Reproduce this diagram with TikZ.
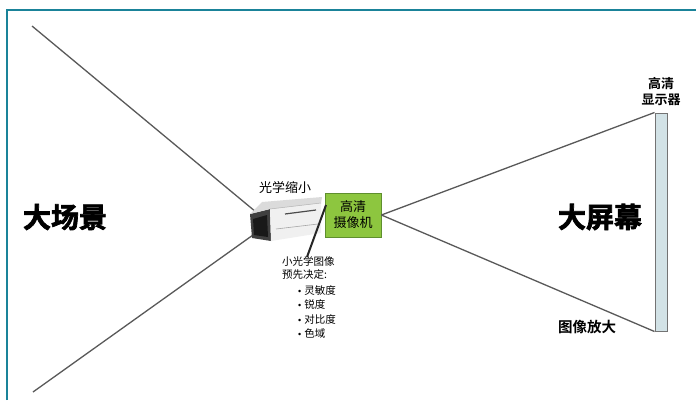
\documentclass[tikz,border=0pt]{standalone}
\usepackage{fontspec}
\setmainfont{Noto Sans CJK SC}
\newfontfamily\cjkbold{Noto Sans CJK SC Bold}
\newfontfamily\cjkheavy[FakeBold=2.5]{Noto Sans CJK SC Bold}
\newfontfamily\latinsans{Liberation Sans}
\newcommand{\dotitem}{{\latinsans\fontsize{9}{10}\selectfont •}\hspace{3pt}}
\begin{document}
\begin{tikzpicture}[x=1pt,y=-1pt,
  ray/.style={draw=black!65,line width=1.3pt},
  bigtext/.style={font=\cjkheavy\fontsize{28}{30}\selectfont,inner sep=0pt},
  midtext/.style={font=\cjkbold\fontsize{13.5}{16}\selectfont,inner sep=0pt,align=center},
  plain/.style={font=\fontsize{13}{15}\selectfont,inner sep=0pt,align=center},
  small/.style={font=\fontsize{10.5}{13.5}\selectfont,inner sep=0pt,align=left,anchor=north west}]
\definecolor{frameteal}{HTML}{1A8399}
\definecolor{boxgreen}{HTML}{8DC63F}
\definecolor{boxedge}{HTML}{5F8F2E}
\definecolor{screenfill}{HTML}{D2E2E6}
\useasboundingbox (0,0) rectangle (696,400);
\fill[white] (0,0) rectangle (696,400);
% frame on top and left
\draw[frameteal,line width=2pt] (7,400) -- (7,10) -- (696,10);

% ray end points
\coordinate (sceneTop) at (32,26);
\coordinate (sceneBot) at (33,392);
\coordinate (camTop) at (256,212);
\coordinate (camBot) at (253,235);

% rays of the large scene into the camera
\draw[ray] (sceneTop) -- (camTop);
\draw[ray] (sceneBot) -- (camBot);

% camera
\fill[black!75] (250,214) -- (270,209) -- (271,241) -- (252,238) -- cycle;
\fill[black!90] (253,219) -- (267,215) -- (268,237) -- (254,235) -- cycle;
\fill[black!6] (270,209) -- (321,203) -- (321,233) -- (271,241) -- cycle;
\fill[black!14] (250,214) -- (262,202) -- (322,197) -- (321,203) -- (270,209) -- cycle;
\draw[black!70,line width=1.2pt] (285,214) -- (316,210);
\draw[black!35,line width=0.6pt] (276,229) -- (318,224);
\draw[black!30,line width=0.5pt] (270,209) -- (321,203);

% camera box
\node[draw=boxedge,fill=boxgreen,line width=0.8pt,minimum width=56pt,minimum height=44pt,inner sep=0pt,align=center,font=\fontsize{13}{16}\selectfont] (hdcam) at (353,215) {高清\\摄像机};

% pointer from the note up to the camera
\coordinate (noteTip) at (307,257);
\draw[black!85,line width=2pt] (noteTip) -- (326,205);

% screen
\node[draw=black!55,fill=screenfill,line width=1pt,minimum width=12pt,minimum height=218pt,inner sep=0pt] (screen) at (661,222) {};

% rays from camera to screen
\draw[ray] (hdcam.east) -- (screen.north west);
\draw[ray] (hdcam.east) -- (screen.south west);

% labels
\node[bigtext] (scene) at (65,217) {大场景};
\node[bigtext] (bigscreen) at (600,217) {大屏幕};
\node[midtext,font=\cjkbold\fontsize{14.5}{17}\selectfont] (enlarge) at (587,327) {图像放大};
\node[midtext,font=\cjkbold\fontsize{13}{16}\selectfont] (display) at (661,92) {高清\\显示器};
\node[plain] (shrink) at (285,188) {光学缩小};
\node[small] (note) at (282,256) {小光学图像\\预先决定:};
\node[small,font=\fontsize{10.5}{14.5}\selectfont] (list) at (298,285) {\dotitem 灵敏度\\\dotitem 锐度\\\dotitem 对比度\\\dotitem 色域};
\end{tikzpicture}
\end{document}
